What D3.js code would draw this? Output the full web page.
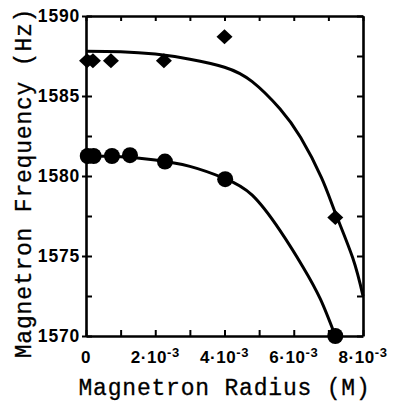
<!DOCTYPE html>
<meta charset="utf-8" />
<script src="https://d3js.org/d3.v7.min.js"></script>
<style>
  body { margin: 0; background: #fff; }
</style>
<div id="chart"></div>
<script>
  // Data (radius in M, frequency in Hz)
  const diamondRadius = [0.03e-3, 0.2e-3, 0.72e-3, 2.25e-3, 4.0e-3, 7.2e-3];
  const diamondFreq = [1587.2, 1587.2, 1587.2, 1587.2, 1588.7, 1577.4];

  const circleRadius = [0.05e-3, 0.22e-3, 0.75e-3, 1.27e-3, 2.28e-3, 4.02e-3, 7.2e-3];
  const circleFreq = [1581.25, 1581.25, 1581.25, 1581.3, 1580.9, 1579.8, 1570.0];

  // fitted curves
  const upperFitRadius = [0, 1e-3, 2e-3, 3e-3, 4e-3, 4.8e-3, 5.6e-3, 6.2e-3, 6.8e-3, 7.2e-3, 7.7e-3, 8e-3];
  const upperFitFreq = [1587.8, 1587.77, 1587.62, 1587.3, 1586.8, 1585.9, 1584.2, 1582.4, 1579.9, 1577.7, 1574.9, 1572.5];

  const lowerFitRadius = [0, 1e-3, 2e-3, 3e-3, 4e-3, 4.8e-3, 5.6e-3, 6.27e-3, 6.77e-3, 7.2e-3];
  const lowerFitFreq = [1581.25, 1581.2, 1581.0, 1580.6, 1579.85, 1578.8, 1576.6, 1574.3, 1572.3, 1570.0];

  const xTickValues = [0, 2e-3, 4e-3, 6e-3, 8e-3];
  const xTickLabels = ["0", "2·10", "4·10", "6·10", "8·10"];
  const xMinorTicks = [0, 1e-3, 2e-3, 3e-3, 4e-3, 5e-3, 6e-3, 7e-3, 8e-3];
  const yTickValues = [1570, 1575, 1580, 1585, 1590];
  const yMinorTicks = [1570, 1572.5, 1575, 1577.5, 1580, 1582.5, 1585, 1587.5, 1590];

  const margin = { top: 16, right: 31, bottom: 69, left: 86 },
    width = 394 - margin.left - margin.right,
    height = 405 - margin.top - margin.bottom;

  const svg = d3
    .select("#chart")
    .append("svg")
    .attr("width", 394)
    .attr("height", 405)
    .append("g")
    .attr("transform", `translate(${margin.left}, ${margin.top})`);

  const x = d3.scaleLinear().domain([0, 8e-3]).range([0, width]);
  const y = d3.scaleLinear().domain([1570, 1590]).range([height, 0]);

  // Axes (ticks point inward on all four sides)
  const axisB = svg
    .append("g")
    .attr("transform", `translate(0, ${height})`)
    .call(d3.axisBottom(x).tickValues(xMinorTicks).tickSizeInner(-6).tickSizeOuter(0).tickFormat(""));

  const axisT = svg
    .append("g")
    .call(d3.axisTop(x).tickValues(xMinorTicks).tickSizeInner(-5).tickSizeOuter(0).tickFormat(""));

  const axisL = svg
    .append("g")
    .call(d3.axisLeft(y).tickValues(yMinorTicks).tickSizeInner(-6).tickSizeOuter(0).tickFormat(""));
  axisL
    .selectAll(".tick line")
    .filter((d) => yTickValues.includes(d))
    .attr("x1", -4);

  const axisR = svg
    .append("g")
    .attr("transform", `translate(${width}, 0)`)
    .call(d3.axisRight(y).tickValues(yMinorTicks).tickSizeInner(-6).tickSizeOuter(0).tickFormat(""));

  [axisB, axisT, axisL, axisR].forEach((g) => {
    g.select(".domain").attr("stroke", "#000").attr("stroke-width", 2.6);
    g.selectAll(".tick line").attr("stroke", "#000").attr("stroke-width", 2);
  });

  // Y tick labels
  svg
    .append("g")
    .selectAll("text")
    .data(yTickValues)
    .join("text")
    .attr("x", -6)
    .attr("y", (d) => y(d))
    .attr("dy", "0.35em")
    .attr("text-anchor", "end")
    .style("font", "bold 17.5px 'Liberation Sans', Arial, sans-serif")
    .style("letter-spacing", "0.8px")
    .text((d) => d);

  // X tick labels with superscript exponent
  const xl = svg
    .append("g")
    .selectAll("text")
    .data(xTickValues)
    .join("text")
    .attr("x", (d) => x(d))
    .attr("y", height + 27)
    .attr("text-anchor", "middle")
    .style("font", "bold 17px 'Liberation Sans', Arial, sans-serif")
    .style("letter-spacing", "0.6px");
  xl.append("tspan").text((d, i) => xTickLabels[i]);
  xl.filter((d) => d !== 0)
    .append("tspan")
    .attr("dy", -6)
    .style("font-size", "13px")
    .text("-3");

  // Fit curves
  const line = d3
    .line()
    .x((d) => x(d[0]))
    .y((d) => y(d[1]))
    .curve(d3.curveNatural);

  svg
    .append("path")
    .datum(upperFitRadius.map((r, i) => [r, upperFitFreq[i]]))
    .attr("fill", "none")
    .attr("stroke", "#000")
    .attr("stroke-width", 3)
    .attr("d", line);

  svg
    .append("path")
    .datum(lowerFitRadius.map((r, i) => [r, lowerFitFreq[i]]))
    .attr("fill", "none")
    .attr("stroke", "#000")
    .attr("stroke-width", 3)
    .attr("d", line);

  // Diamonds
  svg
    .append("g")
    .selectAll("path")
    .data(diamondRadius.map((r, i) => [r, diamondFreq[i]]))
    .join("path")
    .attr("transform", (d) => `translate(${x(d[0])}, ${y(d[1])})`)
    .attr("d", "M0,-7.5L8,0L0,7.5L-8,0Z")
    .attr("fill", "#000");

  // Circles
  svg
    .append("g")
    .selectAll("circle")
    .data(circleRadius.map((r, i) => [r, circleFreq[i]]))
    .join("circle")
    .attr("cx", (d) => x(d[0]))
    .attr("cy", (d) => y(d[1]))
    .attr("r", 8)
    .attr("fill", "#000");

  // Axis titles
  svg
    .append("text")
    .attr("x", width / 2)
    .attr("y", height + 59)
    .attr("text-anchor", "middle")
    .style("font", "23px 'Liberation Mono', 'Courier New', monospace")
    .style("letter-spacing", "0.8px")
    .style("stroke", "#000")
    .style("stroke-width", 0.3)
    .text("Magnetron Radius (M)");

  svg
    .append("text")
    .attr("transform", "rotate(-90)")
    .attr("x", -183 + margin.top)
    .attr("y", -55)
    .attr("text-anchor", "middle")
    .style("font", "23px 'Liberation Mono', 'Courier New', monospace")
    .style("letter-spacing", "0.8px")
    .style("stroke", "#000")
    .style("stroke-width", 0.3)
    .text("Magnetron Frequency (Hz)");
</script>
